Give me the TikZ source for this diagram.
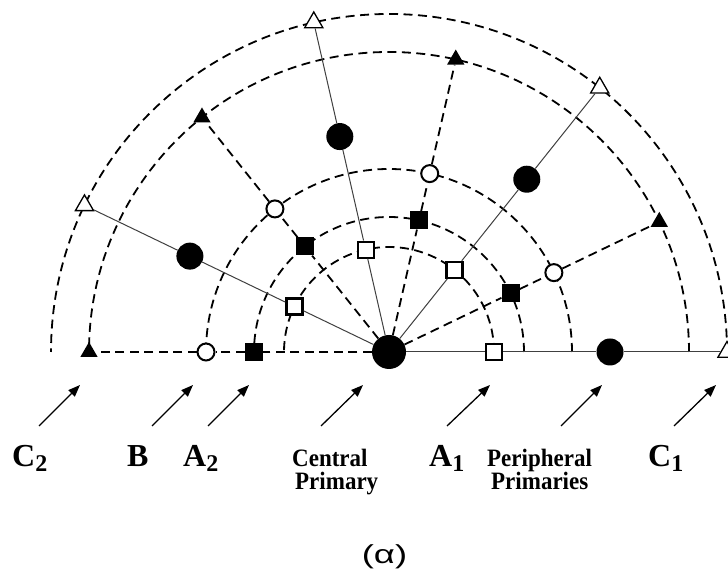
\documentclass[tikz,border=0pt]{standalone}
\usepackage{fontspec}
\setmainfont{Liberation Serif}
\newfontfamily\lsans{Liberation Sans}
\usetikzlibrary{shapes.geometric,arrows.meta,backgrounds}
\begin{document}
\begin{tikzpicture}[x=1pt,y=1pt,
  dsh/.style={line width=1.8pt, dash pattern=on 9pt off 5.5pt},
  sol/.style={line width=1pt, black!75},
  osq/.style={rectangle, draw, line width=2.2pt, fill=white, minimum size=16pt, inner sep=0pt},
  fsq/.style={rectangle, fill=black, minimum size=18pt, inner sep=0pt},
  ocirc/.style={circle, draw, line width=2pt, fill=white, minimum size=17pt, inner sep=0pt},
  bcirc/.style={circle, fill=black, minimum size=27pt, inner sep=0pt},
  ftri/.style={regular polygon, regular polygon sides=3, fill=black, minimum size=20pt, inner sep=0pt},
  otri/.style={regular polygon, regular polygon sides=3, draw, line width=1.3pt, fill=white, minimum size=21pt, inner sep=0pt},
  lab/.style={font=\bfseries\fontsize{32}{36}\selectfont, inner sep=0pt, anchor=base west},
  slab/.style={font=\bfseries\fontsize{25}{28}\selectfont, inner sep=0pt, anchor=base west, xscale=0.92},
  arr/.style={line width=1.3pt, -{Triangle[length=12pt,width=9pt]}},
]
\useasboundingbox (0,0) rectangle (728,575);
\begin{scope}[shift={(389,223)}]
  \node[bcirc, minimum size=34pt] (O) at (0,0) {};
  \foreach \i/\a in {1/0, 2/51.43, 3/102.86, 4/154.29} {
    \node[osq] (s\i) at (\a:105) {};
    \node[bcirc] (c\i) at (\a:221) {};
    \node[otri] (t\i) at (\a:338) {};
  }
  \foreach \i/\a in {1/25.71, 2/77.14, 3/128.57, 4/180} {
    \node[fsq] (q\i) at (\a:135) {};
    \node[ocirc] (o\i) at (\a:183) {};
    \node[ftri] (f\i) at (\a:300) {};
  }
  \begin{scope}[on background layer]
    \fill[white] (-389,-223) rectangle (339,352);
    \foreach \r in {105,135,183,300,338} {
      \draw[dsh] (\r,0) arc[start angle=0, end angle=180, radius=\r];
    }
  \end{scope}
  \foreach \i in {1,...,4} {
    \draw[sol] (O) -- (s\i);
    \draw[sol] (s\i) -- (c\i);
    \draw[sol] (c\i) -- (t\i);
    \draw[dsh] (O) -- (q\i);
    \draw[dsh] (q\i) -- (o\i);
    \draw[dsh] (o\i) -- (f\i);
  }
\end{scope}

% arrows
\coordinate (aC2) at (39,149);  \coordinate (hC2) at (80,190);
\coordinate (aB)  at (152,149); \coordinate (hB)  at (193,190);
\coordinate (aA2) at (208,149); \coordinate (hA2) at (249,190);
\coordinate (aCP) at (321,149); \coordinate (hCP) at (363,190);
\coordinate (aA1) at (447,149); \coordinate (hA1) at (490,190);
\coordinate (aPP) at (561,149); \coordinate (hPP) at (602,190);
\coordinate (aC1) at (674,149); \coordinate (hC1) at (716,190);
\foreach \n in {C2,B,A2,CP,A1,PP,C1} { \draw[arr] (a\n) -- (h\n); }

% labels
\node[lab] (lC2) at (12,108) {C\raisebox{-5pt}{\fontsize{24}{26}\selectfont 2}};
\node[lab] (lB)  at (127,108) {B};
\node[lab] (lA2) at (183,108) {A\raisebox{-5pt}{\fontsize{24}{26}\selectfont 2}};
\node[slab] (lCe) at (292,108) {Central};
\node[slab] (lPr) at (295,85) {Primary};
\node[lab] (lA1) at (429,108) {A\raisebox{-5pt}{\fontsize{24}{26}\selectfont 1}};
\node[slab] (lPe) at (487,108) {Peripheral};
\node[slab] (lPs) at (491,85) {Primaries};
\node[lab] (lC1) at (648,108) {C\raisebox{-5pt}{\fontsize{24}{26}\selectfont 1}};
\node[inner sep=0pt, font=\lsans\fontsize{26}{28}\selectfont, xscale=1.4] (alpha) at (384.5,18.5) {(α)};
\end{tikzpicture}
\end{document}
